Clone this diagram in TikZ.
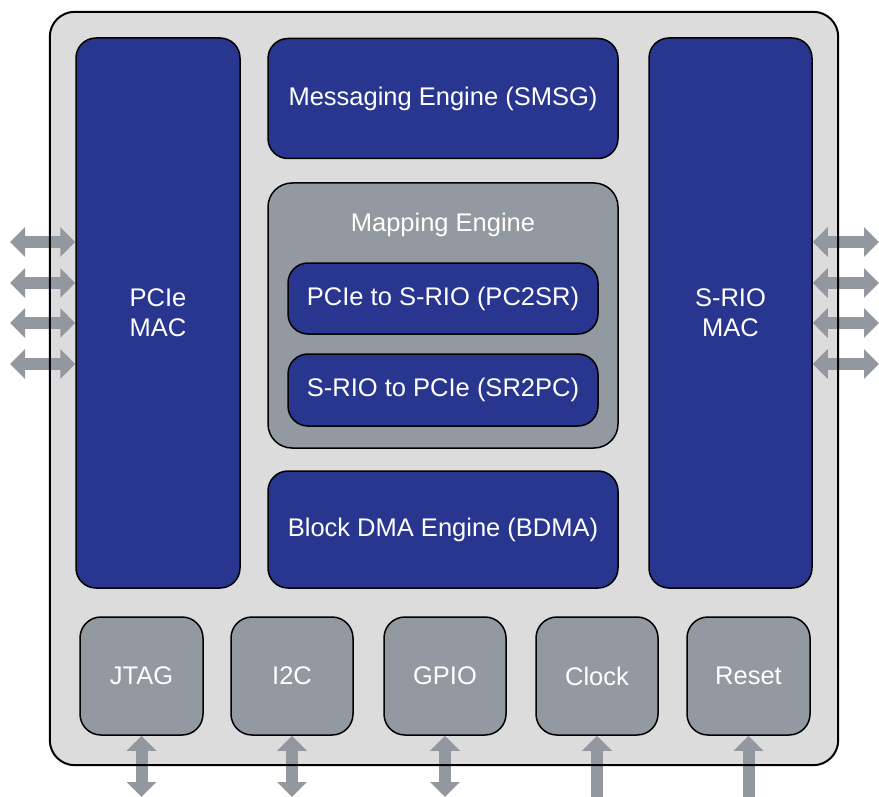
\documentclass[tikz,border=0pt]{standalone}
\usepackage{fontspec}
\setmainfont{Liberation Sans}
\usetikzlibrary{arrows.meta}
\definecolor{chipbg}{RGB}{220,220,220}
\definecolor{idtblue}{RGB}{40,54,143}
\definecolor{boxgray}{RGB}{147,153,160}
\definecolor{arrgray}{RGB}{146,152,158}
\begin{document}
\begin{tikzpicture}[x=1pt,y=-1pt,
  lbl/.style={text=white, font=\fontsize{25.5}{30}\selectfont, align=center, inner sep=0pt},
  bluebox/.style={lbl, draw=black, line width=1.5pt, fill=idtblue, rounded corners=20pt},
  graybox/.style={lbl, draw=black, line width=1.5pt, fill=boxgray, rounded corners=21pt},
  tipT/.tip={Triangle[width=29pt,length=15pt]},
  dblarr/.style={draw=arrgray, line width=12pt, tipT-tipT},
  uparr/.style={draw=arrgray, line width=12pt, tipT-}]
\useasboundingbox (0,0) rectangle (879,797);
% chip background
\node[fill=chipbg, minimum width=788pt, minimum height=753pt, inner sep=0pt, rounded corners=25pt] (chip) at (444,388.5) {};
% main blocks
\node[bluebox, minimum width=164pt, minimum height=550pt] (pcie) at (158,313) {PCIe\\MAC};
\node[bluebox, minimum width=163pt, minimum height=550pt] (srio) at (730.5,313) {S-RIO\\MAC};
\node[bluebox, minimum width=350pt, minimum height=120pt] (smsg) at (443,98.5) {Messaging Engine (SMSG)};
\node[graybox, minimum width=350pt, minimum height=265pt, rounded corners=24pt] (map) at (443,315.5) {};
\node[lbl] (maplbl) at (443,225) {Mapping Engine};
\node[bluebox, minimum width=310pt, minimum height=71pt] (pc2sr) at (443,298.5) {PCIe to S-RIO (PC2SR)};
\node[bluebox, minimum width=310pt, minimum height=72pt] (sr2pc) at (443,390) {S-RIO to PCIe (SR2PC)};
\node[bluebox, minimum width=350pt, minimum height=117pt] (bdma) at (443,529.5) {Block DMA Engine (BDMA)};
% bottom blocks
\node[graybox, minimum width=123pt, minimum height=118pt] (jtag) at (141.5,676) {JTAG};
\node[graybox, minimum width=122pt, minimum height=118pt] (i2c) at (292,676) {I2C};
\node[graybox, minimum width=122pt, minimum height=118pt] (gpio) at (445,676) {GPIO};
\node[graybox, minimum width=122pt, minimum height=118pt] (clock) at (597,676) {Clock};
\node[graybox, minimum width=123pt, minimum height=118pt] (reset) at (748.5,676) {Reset};
% free ends
\coordinate (l1) at (10,242);
\coordinate (l2) at (10,283);
\coordinate (l3) at (10,323);
\coordinate (l4) at (10,364);
\coordinate (r1) at (879,242);
\coordinate (r2) at (879,283);
\coordinate (r3) at (879,323);
\coordinate (r4) at (879,364);
\coordinate (b1) at (141.5,797);
\coordinate (b2) at (292,797);
\coordinate (b3) at (445,797);
\coordinate (b4) at (597,797);
\coordinate (b5) at (748.5,797);
% side arrows
\foreach \c in {l1,l2,l3,l4} \draw[dblarr] (\c) -- (pcie.west |- \c);
\foreach \c in {r1,r2,r3,r4} \draw[dblarr] (srio.east |- \c) -- (\c);
% bottom arrows
\draw[dblarr] (jtag.south) -- (b1);
\draw[dblarr] (i2c.south) -- (b2);
\draw[dblarr] (gpio.south) -- (b3);
\draw[uparr] (clock.south) -- (b4);
\draw[uparr] (reset.south) -- (b5);
% chip outline on top
\draw[line width=2pt, rounded corners=25pt] (chip.south west) rectangle (chip.north east);
\end{tikzpicture}
\end{document}
